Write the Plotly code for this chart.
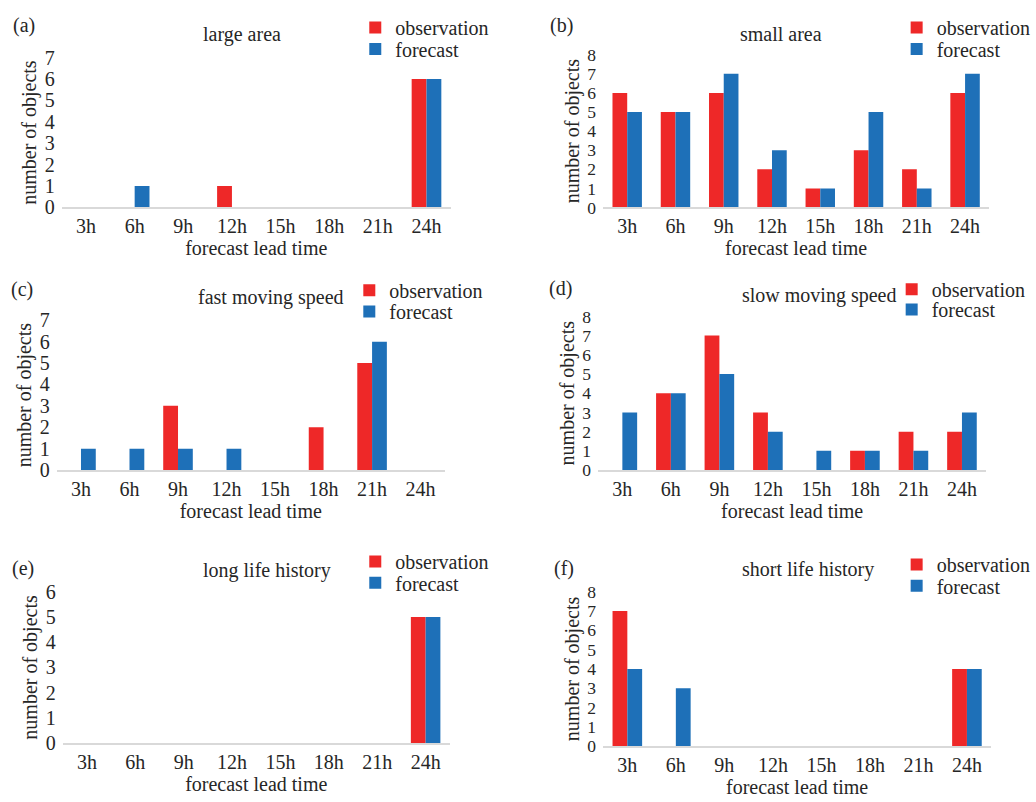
import plotly.graph_objects as go

# Forecast lead times (categories shared by all panels)
lead_times = ["3h", "6h", "9h", "12h", "15h", "18h", "21h", "24h"]

# Number of objects per lead time: observation vs forecast
large_area_obs = [0, 0, 0, 1, 0, 0, 0, 6]
large_area_fc = [0, 1, 0, 0, 0, 0, 0, 6]

small_area_obs = [6, 5, 6, 2, 1, 3, 2, 6]
small_area_fc = [5, 5, 7, 3, 1, 5, 1, 7]

fast_speed_obs = [0, 0, 3, 0, 0, 2, 5, 0]
fast_speed_fc = [1, 1, 1, 1, 0, 0, 6, 0]

slow_speed_obs = [0, 4, 7, 3, 0, 1, 2, 2]
slow_speed_fc = [3, 4, 5, 2, 1, 1, 1, 3]

long_life_obs = [0, 0, 0, 0, 0, 0, 0, 5]
long_life_fc = [0, 0, 0, 0, 0, 0, 0, 5]

short_life_obs = [7, 0, 0, 0, 0, 0, 0, 4]
short_life_fc = [4, 3, 0, 0, 0, 0, 0, 4]

panel_letters = ["(a)", "(b)", "(c)", "(d)", "(e)", "(f)"]
panel_titles = ["large area", "small area", "fast moving speed",
                "slow moving speed", "long life history", "short life history"]
y_max = [7, 8, 7, 8, 6, 8]

series = [
    (large_area_obs, large_area_fc),
    (small_area_obs, small_area_fc),
    (fast_speed_obs, fast_speed_fc),
    (slow_speed_obs, slow_speed_fc),
    (long_life_obs, long_life_fc),
    (short_life_obs, short_life_fc),
]

# ---- layout geometry (pixels) ----
W, H = 1036, 802
FONT = "Liberation Serif, Times New Roman, serif"
TXT = "#262626"
RED = "#EE2828"
BLUE = "#1E70B8"

# plot area (x0, x1, y_top, y_bottom) per panel
plot_boxes = [
    (62, 453, 48, 202),
    (606, 994, 45, 202),
    (57, 447, 318, 472),
    (601, 991, 314, 472),
    (63, 452, 597, 753),
    (606, 996, 597, 756),
]
# title centre, panel letter centre, legend (text start x, row 1 y, row 2 y)
title_pos = [(243, 24), (785, 24), (272, 295), (823, 293), (268, 575), (812, 574)]
letter_pos = [(24, 15), (564, 15), (22, 286), (563, 285), (23, 573), (567, 573)]
legend_pos = [(397, 17, 39), (941, 17, 39), (391, 287, 309),
              (936, 286, 307), (397, 566, 588), (941, 569, 591)]


def fx(px):
    return px / W


def fy(py):
    return 1 - py / H


fig = go.Figure()
layout = dict(
    width=W, height=H,
    margin=dict(l=0, r=0, t=0, b=0),
    paper_bgcolor="white", plot_bgcolor="white",
    barmode="group", bargap=0.39, bargroupgap=0,
    font=dict(family=FONT, size=20, color=TXT),
    showlegend=True,
    annotations=[],
)


def legend_box(text_x, row_y):
    return dict(
        x=fx(text_x - 40), y=fy(row_y), xanchor="left", yanchor="middle",
        bgcolor="rgba(0,0,0,0)", font=dict(size=20, color=TXT),
        itemwidth=30, tracegroupgap=0, visible=True,
    )


for i in range(6):
    n = i + 1
    xa = "x" if n == 1 else f"x{n}"
    ya = "y" if n == 1 else f"y{n}"
    lg_obs = "legend" if n == 1 else f"legend{2 * n - 1}"
    lg_fc = f"legend{2 * n}"
    obs, fc = series[i]

    fig.add_trace(go.Bar(x=lead_times, y=obs, name="observation",
                         marker=dict(color=RED, line=dict(width=0)),
                         xaxis=xa, yaxis=ya, legend=lg_obs, showlegend=True))
    fig.add_trace(go.Bar(x=lead_times, y=fc, name="forecast",
                         marker=dict(color=BLUE, line=dict(width=0)),
                         xaxis=xa, yaxis=ya, legend=lg_fc, showlegend=True))

    x0, x1, yt, yb = plot_boxes[i]
    xkey = "xaxis" if n == 1 else f"xaxis{n}"
    ykey = "yaxis" if n == 1 else f"yaxis{n}"
    # denser 0-8 scales get a slightly smaller tick font so labels stay apart
    ytick_size = 17.5 if y_max[i] >= 8 else 20
    layout[xkey] = dict(
        domain=[fx(x0), fx(x1)], anchor=ya,
        showline=True, linecolor="#D9D9D9", linewidth=1.5,
        showgrid=False, ticks="", tickfont=dict(size=20),
        title=dict(text="forecast lead time", font=dict(size=20), standoff=4),
        fixedrange=True,
    )
    layout[ykey] = dict(
        domain=[fy(yb), fy(yt)], anchor=xa,
        range=[0, y_max[i]], dtick=1,
        showline=False, showgrid=False, zeroline=False,
        ticks="", ticklabelstandoff=6,
        tickfont=dict(size=ytick_size),
        title=dict(text="number of objects", font=dict(size=20), standoff=2),
        fixedrange=True,
    )

    tx_, r1, r2 = legend_pos[i]
    layout[lg_obs] = legend_box(tx_, r1)
    layout[lg_fc] = legend_box(tx_, r2)

    tx, ty = title_pos[i]
    layout["annotations"].append(dict(
        text=panel_titles[i], x=fx(tx), y=fy(ty), xref="paper", yref="paper",
        xanchor="center", yanchor="middle", showarrow=False,
        font=dict(size=20, color=TXT)))
    px_, py_ = letter_pos[i]
    layout["annotations"].append(dict(
        text=panel_letters[i], x=fx(px_), y=fy(py_), xref="paper", yref="paper",
        xanchor="center", yanchor="middle", showarrow=False,
        font=dict(size=20, color=TXT)))

fig.update_layout(**layout)
fig.write_html("out.html")
